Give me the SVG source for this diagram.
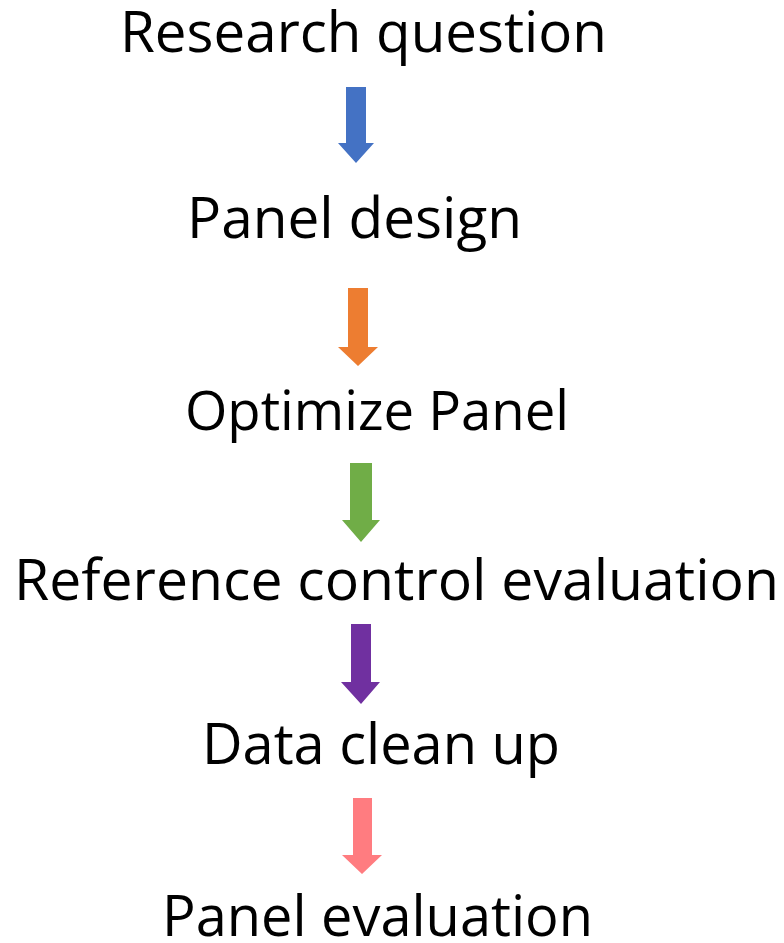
<svg xmlns="http://www.w3.org/2000/svg" width="784" height="943" viewBox="0 0 784 943">
<style>
.t{font-family:"Open Sans","Noto Sans",sans-serif;font-size:56px;fill:#000}
.c{font-family:"Open Sans","Liberation Sans",sans-serif;font-size:54px;fill:#000}
</style>
<rect width="784" height="943" fill="#fff"/>
<g id="n1"><text class="t" x="120" y="52" textLength="487" lengthAdjust="spacingAndGlyphs">Research question</text></g>
<g id="n2"><text class="t" x="187" y="238" textLength="335" lengthAdjust="spacingAndGlyphs">Panel design</text></g>
<g id="n3"><text class="c" x="185" y="430" textLength="384" lengthAdjust="spacingAndGlyphs">Optimize Panel</text></g>
<g id="n4"><text class="t" x="14" y="600" textLength="765" lengthAdjust="spacingAndGlyphs">Reference control evaluation</text></g>
<g id="n5"><text class="t" x="202" y="764" textLength="358" lengthAdjust="spacingAndGlyphs">Data clean up</text></g>
<g id="n6"><text class="t" x="162" y="936" textLength="431" lengthAdjust="spacingAndGlyphs">Panel evaluation</text></g>
<g id="connectors">
<polygon fill="#4472C4" points="346,87 366,87 366,143 374,143 356,163 338,143 346,143"/>
<polygon fill="#ED7D31" points="348,288 368,288 368,347 378,347 358,366 338,347 348,347"/>
<polygon fill="#70AD47" points="350,463 372,463 372,520 380,520 361,542 342,520 350,520"/>
<polygon fill="#7030A0" points="351,624 371,624 371,682 380,682 361,704 341,682 351,682"/>
<polygon fill="#FF7C80" points="353,798 372,798 372,855 382,855 362,874 342,855 353,855"/>
</g>
</svg>
